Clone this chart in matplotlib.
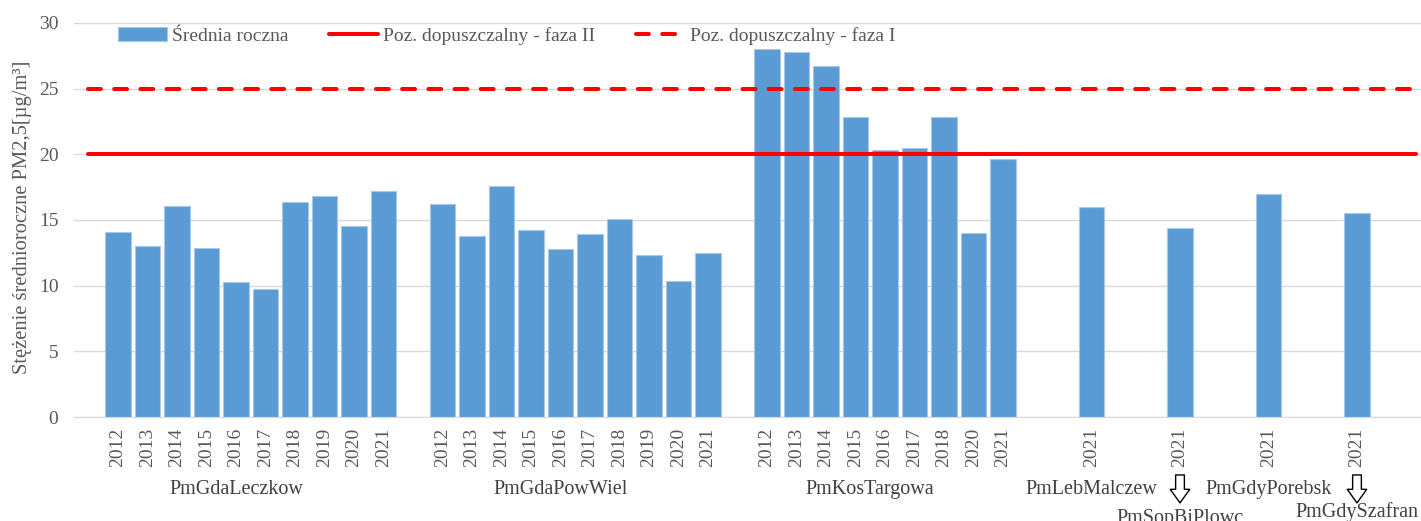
import matplotlib.pyplot as plt
import numpy as np

plt.rcParams['font.family'] = ['Liberation Serif', 'DejaVu Serif']

# stations (multi-level category axis), years and annual means of PM2.5
stations = ['PmGdaLeczkow', 'PmGdaPowWiel', 'PmKosTargowa', 'PmLebMalczew',
            'PmSopBiPlowc', 'PmGdyPorebsk', 'PmGdySzafran']
years = [
    ['2012', '2013', '2014', '2015', '2016', '2017', '2018', '2019', '2020', '2021'],
    ['2012', '2013', '2014', '2015', '2016', '2017', '2018', '2019', '2020', '2021'],
    ['2012', '2013', '2014', '2015', '2016', '2017', '2018', '2020', '2021'],
    ['2021'],
    ['2021'],
    ['2021'],
    ['2021'],
]
values = [
    [14.1, 13.0, 16.05, 12.9, 10.25, 9.75, 16.4, 16.85, 14.5, 17.2],
    [16.2, 13.75, 17.6, 14.2, 12.75, 13.9, 15.05, 12.3, 10.35, 12.5],
    [28.0, 27.8, 26.7, 22.85, 20.3, 20.45, 22.85, 14.0, 19.6],
    [15.95],
    [14.4],
    [16.95],
    [15.5],
]
limit_phase2 = 20
limit_phase1 = 25

# empty categories before each station, and after the last one
empty_before = [1, 1, 1, 2, 2, 2, 2]
empty_after = 2

bar_color = '#5B9BD5'
grey = '#595959'

# lay out the categories
xs, ys, labels, group_x = [], [], [], []
pos = 0
for n_empty, yrs, vals in zip(empty_before, years, values):
    start = pos
    pos += n_empty
    first = pos
    for yr, v in zip(yrs, vals):
        xs.append(pos)
        ys.append(v)
        labels.append(yr)
        pos += 1
    if len(yrs) > 1:
        group_x.append((start + pos - 1) / 2)
    else:
        group_x.append(first)
last = pos - 1 + empty_after

fig = plt.figure(figsize=(14.21, 5.21), dpi=100)
ax = fig.add_axes([0.0519, 0.1996, (last + 1) * 29.5 / 1421, 0.7566])

bars = ax.bar(xs, ys, width=0.86, color=bar_color, edgecolor='#a8c8ea',
              linewidth=0.8, label='Średnia roczna', zorder=2)
line2, = ax.plot([0, last], [limit_phase2] * 2, color='#FF0000', lw=2.9,
                 solid_capstyle='round', label='Poz. dopuszczalny - faza II',
                 zorder=3)
line1, = ax.plot([0, last], [limit_phase1] * 2, color='#FF0000', lw=2.9,
                 dashes=(3.2, 3.3), dash_capstyle='round',
                 label='Poz. dopuszczalny - faza I', zorder=3)

ax.set_xlim(-0.5, last + 0.5)
ax.set_ylim(0, 30)
ax.set_yticks(np.arange(0, 31, 5))
ax.yaxis.grid(True, color='#d9d9d9', lw=1)
ax.set_axisbelow(True)
for s in ['top', 'right', 'left']:
    ax.spines[s].set_visible(False)
ax.spines['bottom'].set_color('#d9d9d9')
ax.tick_params(axis='y', length=0, pad=11, labelsize=14, labelcolor=grey)
ax.set_xticks(xs)
ax.set_xticklabels(labels, rotation=90)
ax.tick_params(axis='x', length=0, pad=8, labelsize=14, labelcolor=grey)

ax.set_ylabel('Stężenie średnioroczne PM2,5[µg/m³]', fontsize=14.8, color=grey)
ax.yaxis.set_label_coords(-0.031, 0.507)

# station names under the years; two of them pushed down with an arrow
tr = ax.get_xaxis_transform()
lowered = {'PmSopBiPlowc': -0.258, 'PmGdySzafran': -0.24}
for name, gx in zip(stations, group_x):
    y = lowered.get(name, -0.185)
    ax.text(gx, y, name, transform=tr, ha='center', va='center',
            fontsize=14.5, color='#404040', clip_on=False)
    if name in lowered:
        ax.annotate('', xy=(gx, -0.218), xytext=(gx, -0.147),
                    xycoords=tr, textcoords=tr,
                    arrowprops=dict(arrowstyle='simple,head_length=0.7,head_width=1.0,tail_width=0.45',
                                    fc='white', ec='black', lw=1,
                                    shrinkA=0, shrinkB=0, mutation_scale=14),
                    annotation_clip=False)

ax.legend([bars, line2, line1],
          ['Średnia roczna', 'Poz. dopuszczalny - faza II', 'Poz. dopuszczalny - faza I'],
          loc='center left', bbox_to_anchor=(0.0326, 0.9665), ncol=3,
          frameon=False, fontsize=14, labelcolor=grey, handlelength=2.52,
          handletextpad=0.26, columnspacing=2.1, borderpad=0,
          borderaxespad=0)

plt.savefig('out.png', dpi=100)
